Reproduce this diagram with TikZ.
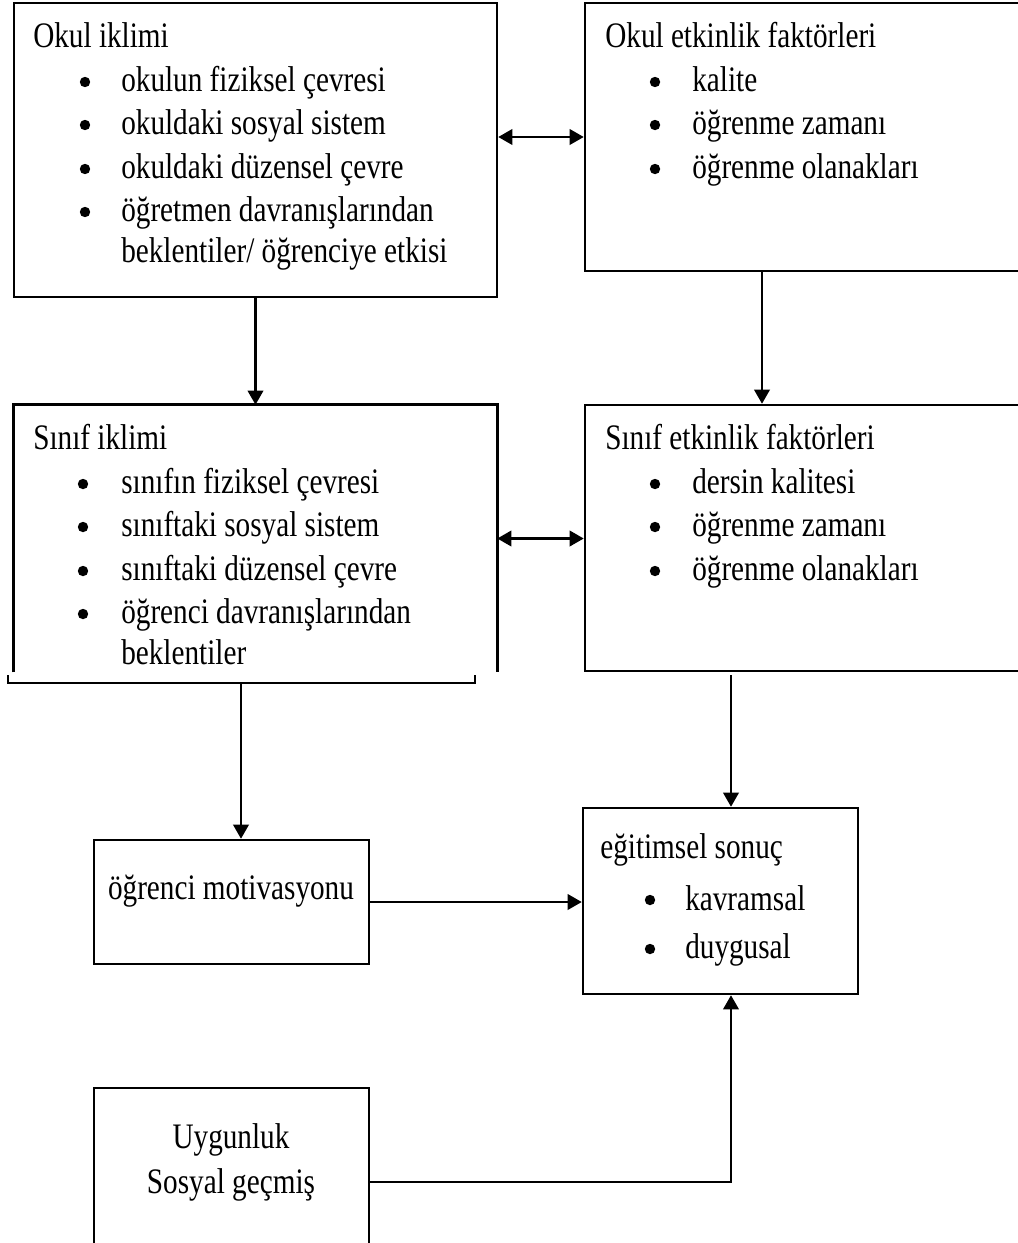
\documentclass[tikz,border=0pt]{standalone}
\usepackage{fontspec}
\setmainfont{Liberation Serif}[FakeStretch=0.815]
\usetikzlibrary{arrows.meta,fit}

\tikzset{
  box/.style={draw, line width=1.8pt, inner sep=0pt},
  txt/.style={anchor=base west, inner sep=0pt, font=\fontsize{25.5}{30}\selectfont},
  ctxt/.style={txt, anchor=base},
  dot/.style={circle, fill, inner sep=0pt, minimum size=0.26cm},
  arr/.style={line width=1.6pt, -{Triangle[length=10pt,width=11pt]}},
  dbl/.style={line width=1.6pt, {Triangle[length=10pt,width=11pt]}-{Triangle[length=10pt,width=11pt]}}
}

\begin{document}
\begin{tikzpicture}[x=0.025cm, y=-0.025cm]
\clip (0,0) rectangle (1018,1243);
\fill[white] (0,0) rectangle (1018,1243);

% boxes
\node[box, fit={(14,3) (497,297)}] (okul) {};
\node[box, fit={(585,3) (1030,271)}] (okuletk) {};
\node[fit={(14,405) (497,672)}, inner sep=0pt] (sinif) {};
\draw[line width=1.8pt] (sinif.south west) |- (sinif.north east) -- (sinif.south east);
\node[box, fit={(585,405) (1030,671)}] (sinifetk) {};
\node[box, fit={(94,840) (369,964)}] (motiv) {};
\node[box, fit={(583,808) (858,994)}] (sonuc) {};
\node[box, fit={(94,1088) (369,1250)}] (uyg) {};

% bracket under the class box
\coordinate (brl) at (8,675);
\coordinate (brr) at (475,675);
\coordinate (brm) at (241,683);
\draw[line width=1.8pt] (brl) -- (brl |- brm) -- (brr |- brm) -- (brr);

% Okul iklimi
\node[txt] (okult) at (33,47) {Okul iklimi};
\node[dot] (okb1) at (85,82) {};
\node[txt] (oki1) at (121,91) {okulun fiziksel çevresi};
\node[dot] (okb2) at (85,125) {};
\node[txt] (oki2) at (121,134) {okuldaki sosyal sistem};
\node[dot] (okb3) at (85,169) {};
\node[txt] (oki3) at (121,178) {okuldaki düzensel çevre};
\node[dot] (okb4) at (85,212) {};
\node[txt] (oki4) at (121,221) {öğretmen davranışlarından};
\node[txt] (oki5) at (121,262) {beklentiler/ öğrenciye etkisi};

% Okul etkinlik faktorleri
\node[txt] (oet) at (605,47) {Okul etkinlik faktörleri};
\node[dot] (oeb1) at (655,82) {};
\node[txt] (oei1) at (692,91) {kalite};
\node[dot] (oeb2) at (655,125) {};
\node[txt] (oei2) at (692,134) {öğrenme zamanı};
\node[dot] (oeb3) at (655,169) {};
\node[txt] (oei3) at (692,178) {öğrenme olanakları};

% Sinif iklimi
\node[txt] (sit) at (33,449) {Sınıf iklimi};
\node[dot] (sib1) at (83,484) {};
\node[txt] (sii1) at (121,493) {sınıfın fiziksel çevresi};
\node[dot] (sib2) at (83,527) {};
\node[txt] (sii2) at (121,536) {sınıftaki sosyal sistem};
\node[dot] (sib3) at (83,571) {};
\node[txt] (sii3) at (121,580) {sınıftaki düzensel çevre};
\node[dot] (sib4) at (83,614) {};
\node[txt] (sii4) at (121,623) {öğrenci davranışlarından};
\node[txt] (sii5) at (121,664) {beklentiler};

% Sinif etkinlik faktorleri
\node[txt] (set) at (605,449) {Sınıf etkinlik faktörleri};
\node[dot] (seb1) at (655,484) {};
\node[txt] (sei1) at (692,493) {dersin kalitesi};
\node[dot] (seb2) at (655,527) {};
\node[txt] (sei2) at (692,536) {öğrenme zamanı};
\node[dot] (seb3) at (655,571) {};
\node[txt] (sei3) at (692,580) {öğrenme olanakları};

% lower boxes
\node[ctxt] (motivt) at (231,899) {öğrenci motivasyonu};
\node[txt] (sont) at (600,858) {eğitimsel sonuç};
\node[dot] (sonb1) at (650,900) {};
\node[txt] (soni1) at (685,910) {kavramsal};
\node[dot] (sonb2) at (650,949) {};
\node[txt] (soni2) at (685,958) {duygusal};
\node[ctxt] (uygt1) at (231,1148) {Uygunluk};
\node[ctxt] (uygt2) at (231,1193) {Sosyal geçmiş};

% connectors
\coordinate (a1) at (762,271);
\coordinate (a2) at (731,675);
\coordinate (a3) at (369,1182);
\draw[dbl] (okul.east |- okuletk.west) -- (okuletk.west);
\draw[dbl] (sinif.east) -- (sinif.east -| sinifetk.west);
\draw[arr] (okul.south) -- (sinif.north);
\draw[arr] (a1) -- (a1 |- sinifetk.north);
\draw[arr] (brm) -- (brm |- motiv.north);
\draw[arr] (a2) -- (a2 |- sonuc.north);
\draw[arr] (motiv.east) -- (motiv.east -| sonuc.west);
\draw[arr] (a3) -| (sonuc.south -| a2);
\end{tikzpicture}
\end{document}
